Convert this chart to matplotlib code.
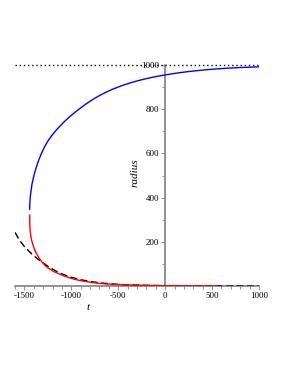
import matplotlib
matplotlib.use("Agg")
import matplotlib.pyplot as plt
from matplotlib.ticker import MultipleLocator

# Blue branch (upper)
blue_t = [-1444, -1443, -1442, -1440, -1437, -1432, -1426, -1419, -1409, -1399, -1390, -1374,
          -1348, -1319, -1283, -1250, -1212, -1170, -1123, -1070, -1016, -960, -909, -855,
          -802, -750, -695, -625, -553, -465, -374, -285, -196, -100, 0, 115, 232, 375, 517,
          660, 802, 910, 1000]
blue_r = [348, 368, 377, 390, 405, 423, 441, 462, 481, 499, 514, 537,
          569, 600, 632, 656, 679, 701, 723, 746, 767, 786.6, 803.6, 820.5,
          836, 850, 863.2, 878.2, 891.9, 906.4, 919.1, 929.8, 939.1, 947.8, 955.6, 963.2,
          969.8, 976.4, 981.6, 985.8, 988.9, 990.7, 992]

# Red branch (lower)
red_t = [-1444, -1443.5, -1443, -1442, -1440, -1437, -1433, -1427, -1420, -1408, -1395, -1380,
         -1362, -1340, -1315, -1283, -1250, -1215, -1176, -1123, -1070, -1000, -927, -850,
         -770, -695, -600, -500, -400, -300, -200, -100, 0, 100, 200, 300, 400, 550]
red_r = [321, 300, 290, 277, 262, 245, 231, 216, 202, 186, 170, 155,
         140, 125, 110, 95, 83, 73, 64, 54, 45, 35, 27, 21,
         16, 12, 9, 7, 5.5, 4.2, 3.3, 2.6, 2, 1.6, 1.3, 1.1, 1, 0.8]

# Black dashed curve
blk_t = [-1600, -1550, -1500, -1450, -1400, -1350, -1300, -1250, -1200, -1150, -1100, -1050,
         -1000, -900, -800, -700, -600, -500, -400, -300, -200, -100, 0, 250, 500, 750, 1000]
blk_r = [243, 206, 179, 157, 137, 120, 105, 90, 77, 65, 55, 47,
         40, 29, 21, 15, 11, 8, 6, 4.5, 3.3, 2.5, 1.8, 0.8, 0.4, 0.2, 0.1]

limit_r = 1000
x_major = [-1500, -1000, -500, 0, 500, 1000]
x_labels = ["-1500", "-1000", "-500", "0", "500", "1000"]
y_major = [200, 400, 600, 800, 1000]

fig = plt.figure(figsize=(2.89, 3.74), dpi=100)
ax = fig.add_axes([0.052, 0.235, 0.844, 0.591])

grey = "#808080"
ax.plot(blk_t, blk_r, color="black", lw=1.0, dashes=(5, 2.5), zorder=2)
ax.plot(red_t, red_r, color="#ff0000", lw=1.0, zorder=3)
ax.plot(blue_t, blue_r, color="#0000ff", lw=1.0, zorder=3)
ax.plot([-1600, 1000], [limit_r, limit_r], color="black", lw=1.0, ls=(0, (1, 2)),
        zorder=2, clip_on=False)

ax.set_xlim(-1600, 1000)
ax.set_ylim(0, 1000)

for s in ["top", "right"]:
    ax.spines[s].set_visible(False)
ax.spines["left"].set_position(("data", 0))
for s in ["left", "bottom"]:
    ax.spines[s].set_color(grey)
    ax.spines[s].set_linewidth(1.2)
    ax.spines[s].set_zorder(1)

ax.set_xticks(x_major)
ax.set_yticks(y_major)
ax.xaxis.set_minor_locator(MultipleLocator(100))
ax.yaxis.set_minor_locator(MultipleLocator(100))
ax.set_xticklabels(x_labels)
ax.tick_params(which="both", color=grey, width=0.6, labelsize=6.5, pad=1.5)
ax.tick_params(which="major", length=3)
ax.tick_params(which="minor", length=2)
for lab in ax.get_xticklabels() + ax.get_yticklabels():
    lab.set_family("Liberation Serif")

ax.text(-820, -95, "t", fontsize=8, style="italic", family="Liberation Serif",
        ha="center", va="center")
ax.text(-320, 515, "radius", fontsize=8, style="italic", family="Liberation Serif",
        rotation=90, ha="center", va="center")

fig.savefig("out.png", dpi=100)
